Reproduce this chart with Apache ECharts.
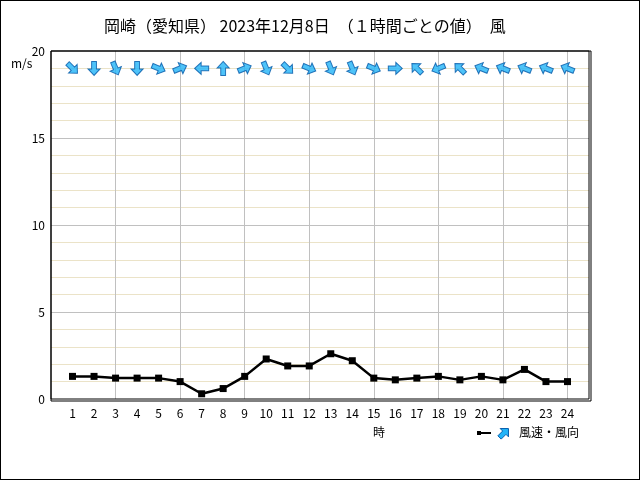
<!DOCTYPE html>
<html><head><meta charset="utf-8">
<script src="https://cdn.jsdelivr.net/npm/echarts@6/dist/echarts.min.js"></script>
<style>html,body{margin:0;padding:0;background:#fff}#c{width:640px;height:480px;box-sizing:border-box;border:1px solid #000}</style>
</head><body><div id="c"></div>
<script>
const hours = [1,2,3,4,5,6,7,8,9,10,11,12,13,14,15,16,17,18,19,20,21,22,23,24];
const speed = [1.3,1.3,1.2,1.2,1.2,1.0,0.3,0.6,1.3,2.3,1.9,1.9,2.6,2.2,1.2,1.1,1.2,1.3,1.1,1.3,1.1,1.7,1.0,1.0];
// direction the wind blows FROM (16-point compass)
const dirFrom = ['北西','北','北北西','北','西北西','西南西','東','南','西南西','北北西','北西','西北西','北北西','北北西','西北西','西','南東','東北東','南東','東南東','東南東','東南東','東南東','東南東'];
const compass = ['北','北北東','北東','東北東','東','東南東','南東','南南東','南','南南西','南西','西南西','西','西北西','北西','北北西'];
const arrowLevel = 19;

const arrowPath = 'path://M0,-7 L6.5,-0.5 L2.6,-0.5 L2.6,7 L-2.6,7 L-2.6,-0.5 L-6.5,-0.5 Z';
const arrowData = hours.map((h,i)=>{
  const fromDeg = compass.indexOf(dirFrom[i]) * 22.5;
  const toDeg = (fromDeg + 180) % 360;
  return {value:[h, arrowLevel], symbolRotate: -toDeg};
});
const font = '"Noto Sans CJK JP", sans-serif';
const chart = echarts.init(document.getElementById('c'));
chart.setOption({
  animation:false,
  backgroundColor:'#fff',
  title:{text:'岡崎（愛知県） 2023年12月8日　（１時間ごとの値）　風', left:98, top:12,
    textStyle:{fontFamily:font, fontSize:16, fontWeight:'normal', color:'#000'}},
  grid:{left:50, right:50, top:50, bottom:80, show:true, borderColor:'#000', borderWidth:1, z:3},
  xAxis:[{type:'value', min:0, max:25, interval:1,
    axisLine:{show:false}, axisTick:{show:false}, splitLine:{show:false},
    axisLabel:{fontFamily:font, fontSize:12, color:'#000', margin:8,
      formatter:v=> (v>=1 && v<=24) ? String(v) : ''}},
   {type:'value', min:0, max:25, interval:3, position:'bottom',
    axisLine:{show:false}, axisTick:{show:false}, axisLabel:{show:false},
    splitLine:{show:true, showMinLine:false, showMaxLine:false, lineStyle:{color:'#c0c0c0', width:1}}}],
  yAxis:{type:'value', min:0, max:20, interval:5,
    axisLine:{show:false}, axisTick:{show:false},
    axisLabel:{fontFamily:font, fontSize:12, color:'#000', margin:6},
    splitLine:{show:true, showMinLine:false, showMaxLine:false, lineStyle:{color:'#c0c0c0'}},
    minorTick:{show:false, splitNumber:5},
    minorSplitLine:{show:true, lineStyle:{color:'#ebe3c8'}}},
  series:[
    {type:'line', data:hours.map((h,i)=>[h,speed[i]]), symbol:'rect', symbolSize:7,
     lineStyle:{color:'#000', width:2.5}, itemStyle:{color:'#000'}, z:5},
    {type:'scatter', data:arrowData, symbol:arrowPath, symbolSize:[13,14], symbolKeepAspect:true,
     itemStyle:{color:'#22b4f8', borderColor:'#0058a8', borderWidth:1}, z:6}
  ],
  graphic:[
    {type:'rect', shape:{x:50,y:50,width:540,height:350}, style:{fill:'none', stroke:'#000', lineWidth:1}, z:100, silent:true},
    {type:'text', x:10, y:56, style:{text:'m/s', font:'12px '+font, fill:'#000'}},
    {type:'text', x:372, y:425, style:{text:'時', font:'12px '+font, fill:'#000'}},
    {type:'line', shape:{x1:477,y1:432,x2:490,y2:432}, style:{stroke:'#000', lineWidth:2}},
    {type:'rect', shape:{x:476,y:430,width:4,height:4}, style:{fill:'#000'}},
    {type:'polygon', shape:{points:[[0,-7],[6.5,-0.5],[2.6,-0.5],[2.6,7],[-2.6,7],[-2.6,-0.5],[-6.5,-0.5]]},
      x:503, y:432, rotation:-Math.PI/4, scaleX:0.9, scaleY:0.9,
      style:{fill:'#22b4f8', stroke:'#0058a8', lineWidth:1}},
    {type:'text', x:518, y:425, style:{text:'風速・風向', font:'12px '+font, fill:'#000'}}
  ]
});
</script></body></html>
